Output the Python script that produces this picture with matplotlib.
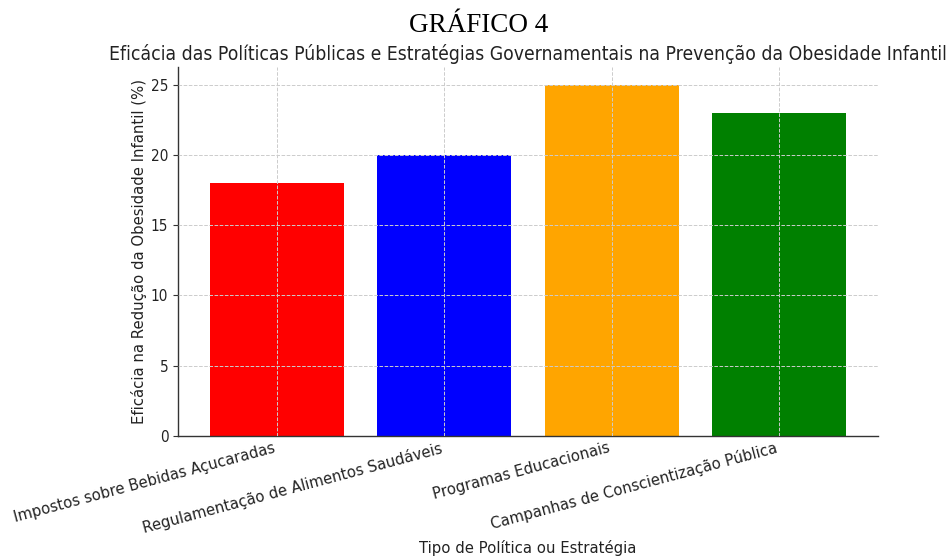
import matplotlib
matplotlib.use("Agg")
import matplotlib.pyplot as plt

categories = [
    "Impostos sobre Bebidas Açucaradas",
    "Regulamentação de Alimentos Saudáveis",
    "Programas Educacionais",
    "Campanhas de Conscientização Pública",
]
eficacia = [18, 20, 25, 23]
cores = ["red", "blue", "orange", "green"]
yticks = [0, 5, 10, 15, 20, 25]

plt.rcParams["font.family"] = ["DejaVu Sans"]

fig = plt.figure(figsize=(9.48, 5.57), dpi=100)
ax = fig.add_axes([178 / 948, 1 - 436 / 557, 700 / 948, 369 / 557])

ax.bar(categories, eficacia, color=cores, width=0.8, zorder=2)
ax.set_yticks(yticks)
ax.grid(True, linestyle="--", color="#cccccc", linewidth=0.7, zorder=0)
ax.set_axisbelow(False)
for s in ("top", "right"):
    ax.spines[s].set_visible(False)
for s in ("left", "bottom"):
    ax.spines[s].set_color("#333333")
    ax.spines[s].set_linewidth(1.0)
ax.tick_params(axis="both", colors="#333333", labelcolor="#222222")
ax.tick_params(axis="x", length=0, pad=3)
for lbl in ax.get_yticklabels():
    lbl.set_fontsize(11)
    lbl.set_fontstretch("condensed")
for lbl in ax.get_xticklabels():
    lbl.set_fontsize(10.7)
    lbl.set_rotation(15)
    lbl.set_ha("right")

ax.set_title(
    "Eficácia das Políticas Públicas e Estratégias Governamentais na Prevenção da Obesidade Infantil",
    fontsize=13.9, color="#222222", pad=5, fontstretch="condensed",
)
ax.set_ylabel("Eficácia na Redução da Obesidade Infantil (%)", fontsize=10.7, color="#222222")
ax.yaxis.set_label_coords(-(178 - 147) / 700, 0.5)
ax.set_xlabel("Tipo de Política ou Estratégia", fontsize=10.7, color="#222222")
ax.xaxis.label.set_va("center")
ax.xaxis.set_label_coords(0.5, -(548 - 436) / 369)

fig.text(0.505, 1 - 32 / 557, "GRÁFICO 4", family="Liberation Serif", fontsize=19.5,
         ha="center", va="baseline", color="black")

fig.savefig("out.png", dpi=100, facecolor="white")
